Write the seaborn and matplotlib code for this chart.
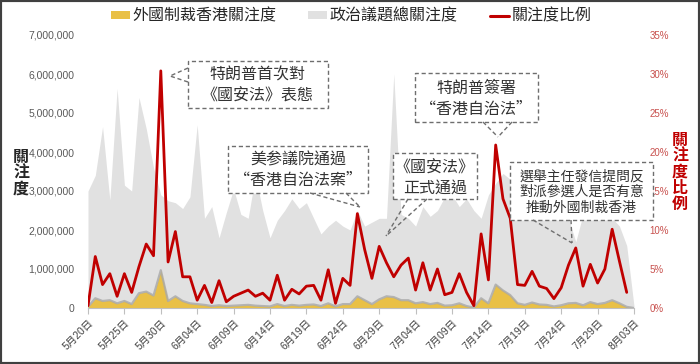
import numpy as np
import pandas as pd
import matplotlib
matplotlib.use("Agg")
import matplotlib.pyplot as plt
import seaborn as sns
from matplotlib.patches import Rectangle, Patch
from matplotlib.lines import Line2D
from matplotlib.ticker import FuncFormatter, MultipleLocator

# ---------------- data ----------------
dates = pd.date_range("2020-05-20", "2020-08-03", freq="D")
date_labels = [f"{d.month}月{d.day:02d}日" for d in dates]

# 政治議題總關注度 (millions)
total_attention_m = [
    3.0, 3.4, 4.65, 2.77, 5.63, 3.15, 3.0, 5.4, 4.6, 3.6,
    2.9, 2.75, 2.7, 2.55, 2.85, 4.7, 2.3, 2.6, 1.8, 2.45,
    3.05, 2.4, 2.3, 3.4, 2.5, 1.8, 2.25, 2.5, 2.8, 2.55,
    2.7, 2.3, 1.9, 2.1, 2.25, 2.1, 2.0, 2.5, 2.1, 2.2,
    2.3, 2.3, 6.0, 2.4, 2.3, 2.1, 2.6, 2.35, 2.5, 2.85,
    2.9, 2.6, 2.8, 2.5, 2.3, 2.9, 3.2, 3.45, 3.3, 3.1,
    2.6, 3.0, 3.45, 3.3, 3.0, 2.7, 2.3, 1.7, 2.4, 2.9,
    3.0, 2.6, 2.3, 2.1, 1.6, 0.05,
]

# 外國制裁香港關注度 (millions)
sanction_attention_m = [
    0.03, 0.25, 0.18, 0.2, 0.12, 0.18, 0.1, 0.38, 0.42, 0.32,
    0.97, 0.18, 0.3, 0.18, 0.12, 0.1, 0.08, 0.05, 0.07, 0.05,
    0.06, 0.07, 0.08, 0.06, 0.05, 0.04, 0.1, 0.05, 0.08, 0.06,
    0.08, 0.09, 0.05, 0.12, 0.04, 0.1, 0.1, 0.3, 0.2, 0.1,
    0.22, 0.3, 0.28, 0.2, 0.2, 0.12, 0.15, 0.1, 0.13, 0.06,
    0.07, 0.12, 0.05, 0.01, 0.25, 0.12, 0.6, 0.45, 0.33, 0.12,
    0.08, 0.14, 0.09, 0.08, 0.04, 0.07, 0.12, 0.13, 0.07, 0.15,
    0.1, 0.13, 0.2, 0.12, 0.03, 0.0,
]

# 關注度比例 (%)
ratio_pct = [
    0.3, 6.6, 3.0, 4.4, 1.5, 4.4, 2.0, 5.3, 8.2, 6.7,
    30.4, 5.9, 9.8, 4.0, 4.0, 1.0, 2.9, 0.7, 3.5, 0.8,
    1.5, 1.9, 2.3, 1.5, 1.9, 1.0, 4.2, 1.0, 2.4, 1.8,
    2.8, 2.9, 1.0, 4.9, 0.6, 3.8, 2.9, 12.1, 7.5, 3.8,
    7.9, 5.8, 4.0, 5.5, 6.4, 2.3, 5.8, 2.3, 5.0, 1.7,
    2.0, 4.4, 2.0, 0.3, 9.5, 3.6, 20.9, 14.0, 11.5, 3.0,
    2.9, 4.7, 2.8, 2.5, 1.2, 2.6, 5.5, 7.7, 2.8, 5.6,
    3.2, 5.0, 10.1, 6.0, 2.0,
]

legend_labels = ["外國制裁香港關注度", "政治議題總關注度", "關注度比例"]

annotations = [
    # (lines, box [x0, y0, x1, y1] px, line centres y px, pointer bases, tip, fontsize)
    (["特朗普首次對", "《國安法》表態"], (188, 61, 328, 108), (75, 96),
     [(188, 68), (188, 82)], (170, 76), 11.5),
    (["美参議院通過", "“香港自治法案”"], (228, 146, 368, 193), (160, 181),
     [(310, 193), (346, 193)], (360, 207), 11.5),
    (["《國安法》", "正式通過"], (393, 153, 477, 199), (168, 188),
     [(408, 199), (427, 199)], (386, 236), 11.5),
    (["特朗普簽署", "“香港自治法”"], (415, 73, 538, 122), (88, 109),
     [(483, 122), (512, 122)], (498, 137), 11.5),
    (["選舉主任發信提問反", "對派參選人是否有意", "推動外國制裁香港"],
     (510, 162, 653, 220), (177, 192, 208),
     [(533, 220), (571, 220)], (572, 243), 10),
]

# ---------------- style ----------------
sns.set_theme(style="white")
plt.rcParams["font.family"] = ["Noto Sans CJK TC", "DejaVu Sans"]

YELLOW = "#E9C046"
GRAY = "#E1E1E1"
RED = "#C00000"
TICK_RED = "#C8504D"

W, H = 700, 364
fig = plt.figure(figsize=(W / 100, H / 100), dpi=100)
fig.patch.set_facecolor("white")

def fx(px):
    return px / W

def fy(py):
    return 1 - py / H

ax = fig.add_axes([fx(88), fy(308), (634 - 88) / W, (308 - 35) / H])
ax2 = ax.twinx()

x = np.arange(len(total_attention_m))
df = pd.DataFrame({"x": x, "total": total_attention_m, "sanction": sanction_attention_m})
df_ratio = pd.DataFrame({"x": np.arange(len(ratio_pct)), "ratio": ratio_pct})

ax.fill_between(df["x"], 0, df["total"], color=GRAY, lw=0, zorder=1)
ax.fill_between(df["x"], 0, df["sanction"], color=YELLOW, lw=0, zorder=2)
sns.lineplot(data=df, x="x", y="sanction", ax=ax, color="#A8A8A8", lw=1.6,
             alpha=0.8, zorder=3, legend=False)

sns.lineplot(data=df_ratio, x="x", y="ratio", ax=ax2, color=RED, lw=2.0,
             zorder=5, legend=False, solid_joinstyle="round", solid_capstyle="round")

ax.set_xlim(0, 75)
ax.set_ylim(0, 7)
ax2.set_ylim(0, 35)

ax.set_xticks(np.arange(0, 76, 5))
ax.set_xticklabels([date_labels[i] for i in range(0, 76, 5)], rotation=45,
                   ha="right", va="top", rotation_mode="anchor",
                   fontsize=7.5, color="#404040",
                   fontfamily=["Liberation Sans", "Noto Sans CJK TC"])
ax.yaxis.set_major_locator(MultipleLocator(1))
ax.yaxis.set_major_formatter(FuncFormatter(lambda v, p: f"{int(round(v * 1_000_000)):,}"))
ax2.yaxis.set_major_locator(MultipleLocator(5))
ax2.yaxis.set_major_formatter(FuncFormatter(lambda v, p: f"{int(round(v))}%"))

for lab in ax.get_yticklabels():
    lab.set_fontfamily(["Liberation Sans", "DejaVu Sans"])
    lab.set_fontsize(7.5)
    lab.set_color("#595959")
for lab in ax2.get_yticklabels():
    lab.set_fontfamily(["Liberation Sans", "DejaVu Sans"])
    lab.set_fontsize(7)
    lab.set_color(TICK_RED)

ax.tick_params(axis="y", length=0, pad=9.5)
ax2.tick_params(axis="y", length=0, pad=11)
ax.tick_params(axis="x", length=4, width=0.8, color="#BFBFBF", pad=3, direction="out")
ax.xaxis.set_ticks_position("bottom")

for a in (ax, ax2):
    for s in ("top", "left", "right"):
        a.spines[s].set_visible(False)
    a.set_xlabel("")
    a.set_ylabel("")
ax.spines["bottom"].set_color("#BFBFBF")
ax.spines["bottom"].set_linewidth(0.8)
ax2.spines["bottom"].set_visible(False)
ax.patch.set_visible(False)
ax2.patch.set_visible(False)

# axis titles (vertical stacked characters)
fig.text(fx(21), fy(173), "關\n注\n度", ha="center", va="center", fontsize=11.5,
         color="#262626", linespacing=1.0, fontweight="bold")
fig.text(fx(680), fy(172), "關\n注\n度\n比\n例", ha="center", va="center", fontsize=11.5,
         color=RED, linespacing=1.0, fontweight="bold")

# legend
handles = [Patch(facecolor=YELLOW, edgecolor="none"),
           Patch(facecolor=GRAY, edgecolor="none"),
           Line2D([0], [0], color=RED, lw=2.2)]
fig.legend(handles, legend_labels, loc="center", bbox_to_anchor=(fx(351), fy(16)),
           ncol=3, frameon=False, fontsize=11.5, handlelength=1.2, handleheight=0.45,
           handletextpad=0.15, columnspacing=2.0, labelcolor="#262626")

# annotation callouts
dash = (0, (3, 2))
for lines, (x0, y0, x1, y1), ys, bases, tip, fs in annotations:
    rect = Rectangle((fx(x0), fy(y1)), fx(x1) - fx(x0), fy(y0) - fy(y1),
                     transform=fig.transFigure, facecolor="white",
                     edgecolor="#6E6E6E", lw=1.0, linestyle=dash, zorder=10)
    fig.add_artist(rect)
    for (bx, by) in bases:
        fig.add_artist(Line2D([fx(bx), fx(tip[0])], [fy(by), fy(tip[1])],
                              transform=fig.transFigure, color="#6E6E6E",
                              lw=1.0, linestyle=dash, zorder=10))
    cx = (x0 + x1) / 2
    for line, yy in zip(lines, ys):
        fig.text(fx(cx), fy(yy), line, ha="center", va="center", fontsize=fs,
                 color="#333333", zorder=11)

# outer border
fig.add_artist(Rectangle((0, 0), 1, 1, transform=fig.transFigure, fill=False,
                         edgecolor="#404040", lw=3, zorder=20))

fig.savefig("out.png", dpi=100)
